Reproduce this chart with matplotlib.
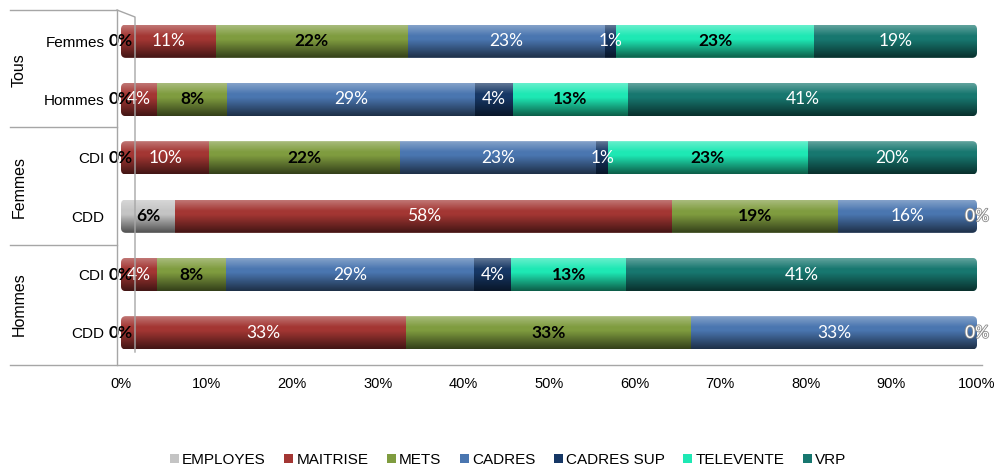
import numpy as np
import matplotlib
matplotlib.use("Agg")
import matplotlib.pyplot as plt
from matplotlib.patches import FancyBboxPatch
from matplotlib.lines import Line2D
from matplotlib.transforms import blended_transform_factory
import matplotlib.patheffects as pe

# ---- data -------------------------------------------------------------
rows = ["Femmes", "Hommes", "CDI", "CDD", "CDI", "CDD"]
groups = ["Tous", "Femmes", "Hommes"]
series = ["EMPLOYES", "MAITRISE", "METS", "CADRES", "CADRES SUP", "TELEVENTE", "VRP"]

employes   = [0.0, 0.0, 0.0, 6.3, 0.0, 0.0]
maitrise   = [11.1, 4.2, 10.3, 58.1, 4.2, 33.3]
mets       = [22.4, 8.2, 22.3, 19.4, 8.1, 33.3]
cadres     = [23.1, 29.0, 22.9, 16.2, 28.9, 33.4]
cadres_sup = [1.2, 4.4, 1.4, 0.0, 4.4, 0.0]
televente  = [23.2, 13.4, 23.3, np.nan, 13.4, np.nan]
vrp        = [19.0, 40.8, 19.8, np.nan, 41.0, np.nan]

values = [employes, maitrise, mets, cadres, cadres_sup, televente, vrp]
colors = ["#c4c4c4", "#a33633", "#7f9c3f", "#4a76b0", "#163765", "#1ee8b4", "#17776f"]
label_color = ["black", "white", "black", "white", "white", "black", "white"]
label_bold = [True, False, True, False, False, True, False]

# ---- figure -----------------------------------------------------------
W, H = 1004, 467
fig = plt.figure(figsize=(W / 100, H / 100), dpi=100)


def fx(px):
    return px / W


def fy(py):
    return 1 - py / H


ax = fig.add_axes([fx(121), fy(362), fx(977) - fx(121), fy(12) - fy(362)])
ypos = np.arange(len(rows))
bar_h = 0.57

# rounded outline of each full bar, used to clip segments and shading
x_px = (977 - 121) / 100.0
y_px = 350 / len(rows)
r_x = 5 / x_px
aspect = (5 / y_px) / r_x
clips = []
for i in ypos:
    box = FancyBboxPatch((0, i - bar_h / 2), 100, bar_h,
                         boxstyle=f"round,pad=0,rounding_size={r_x}",
                         mutation_aspect=aspect, transform=ax.transData)
    clips.append(box)

lefts = np.zeros(len(rows))
label_font = ["Lato", "DejaVu Sans"]
for name, vals, c, lc, bold in zip(series, values, colors, label_color, label_bold):
    v = np.array(vals, dtype=float)
    w = np.nan_to_num(v)
    bars = ax.barh(ypos, w, left=lefts, height=bar_h, color=c, label=name,
                   linewidth=0, zorder=2)
    for i, patch in enumerate(bars.patches):
        patch.set_clip_path(clips[i])
    for i in ypos:
        if np.isnan(v[i]):
            continue
        t = ax.text(lefts[i] + w[i] / 2, i, f"{int(round(v[i]))}%",
                    ha="center", va="center", fontsize=12.5,
                    family=label_font, color=lc,
                    fontweight="bold" if bold else "normal", zorder=6)
        if v[i] == 0 and lc == "white":
            t.set_path_effects([pe.withStroke(linewidth=1.2, foreground="#8c8c8c")])
    lefts = lefts + w

# cylinder-like shading over each bar
n = 64
tt = np.linspace(0, 1, n)
shade = np.zeros((n, 1, 4))
light = np.clip(0.35 * (1 - tt / 0.35), 0, None)
dark = np.clip(0.6 * (tt - 0.45) / 0.55, 0, None)
shade[:, 0, :3] = np.where(light[:, None] > 0, 1.0, 0.0)
shade[:, 0, 3] = light + dark
for i in ypos:
    im = ax.imshow(shade, extent=(0, 100, i + bar_h / 2, i - bar_h / 2),
                   aspect="auto", origin="upper", zorder=3,
                   interpolation="bilinear")
    im.set_clip_path(clips[i])

ax.set_xlim(0, 100)
ax.set_ylim(len(rows) - 0.5, -0.5)
ax.set_xticks(np.arange(0, 101, 10))
ax.set_xticklabels([f"{x}%" for x in range(0, 101, 10)])
ax.set_yticks(ypos)
ax.set_yticklabels(rows)
ax.tick_params(axis="x", length=0, pad=11, labelsize=10.5)
ax.tick_params(axis="y", length=0, pad=12, labelsize=11)
for lab in ax.get_xticklabels() + ax.get_yticklabels():
    lab.set_family("Liberation Sans")
for s in ax.spines.values():
    s.set_visible(False)
ax.patch.set_alpha(0)

# group labels on the left
gtrans = blended_transform_factory(fig.transFigure, ax.transData)
for g, yc in zip(groups, [0.5, 2.5, 4.5]):
    fig.text(fx(19), yc, g, rotation=90, ha="center", va="center",
             fontsize=11.5, family="Liberation Sans", transform=gtrans)

# frame lines of the category table and side wall
line_c = "#a6a6a6"
for py in [10, 127, 245]:
    fig.add_artist(Line2D([fx(10), fx(117)], [fy(py), fy(py)],
                          transform=fig.transFigure, color=line_c, lw=1))
fig.add_artist(Line2D([fx(10), fx(982)], [fy(365), fy(365)],
                      transform=fig.transFigure, color=line_c, lw=1))
fig.add_artist(Line2D([fx(117), fx(117)], [fy(10), fy(365)],
                      transform=fig.transFigure, color=line_c, lw=1))
fig.add_artist(Line2D([fx(117), fx(135), fx(135)], [fy(10), fy(17), fy(352)],
                      transform=fig.transFigure, color=line_c, lw=1))

# legend
leg = fig.legend(loc="center", bbox_to_anchor=(fx(508), fy(460)), ncol=7,
                 frameon=False, handlelength=0.6, handleheight=0.6,
                 handletextpad=0.2, columnspacing=1.2,
                 prop={"family": "Liberation Sans", "size": 11})

fig.savefig("out.png", dpi=100)
